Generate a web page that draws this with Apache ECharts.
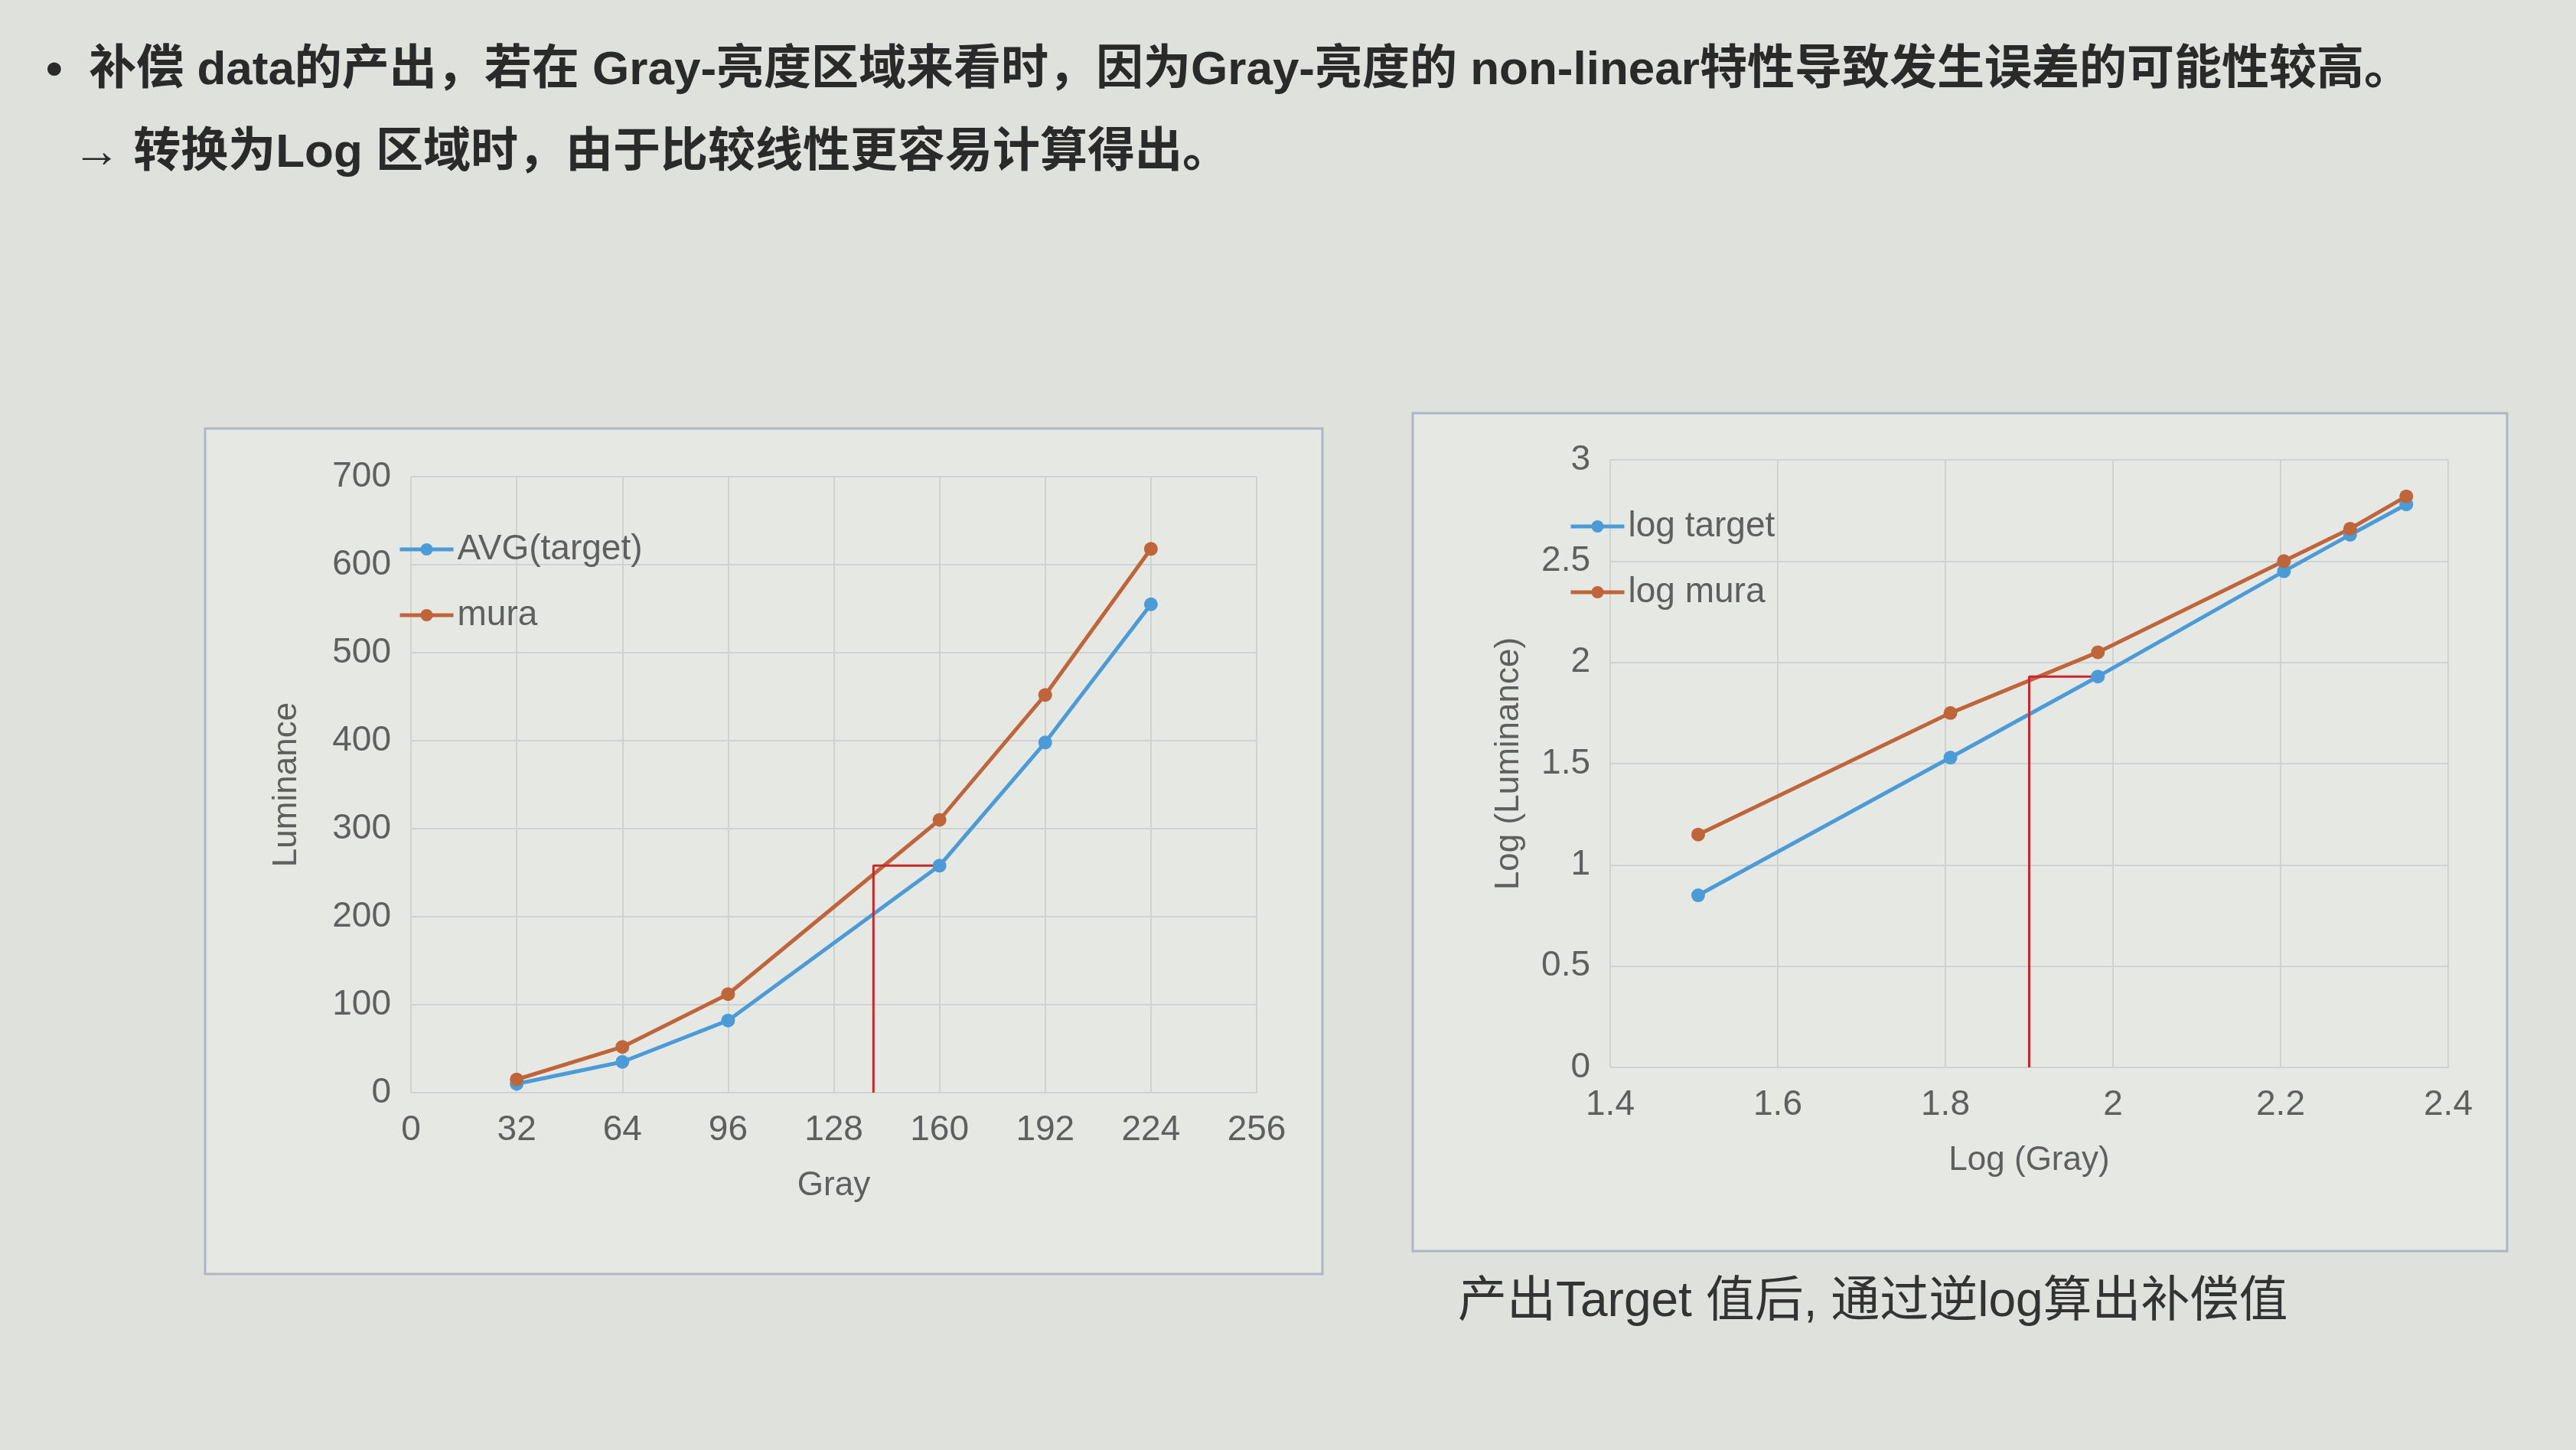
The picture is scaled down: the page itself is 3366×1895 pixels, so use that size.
<!DOCTYPE html>
<html><head><meta charset="utf-8">
<script src="https://cdn.jsdelivr.net/npm/echarts@6/dist/echarts.min.js"></script>
<style>html,body{margin:0;padding:0;background:#dfe1dc}#main{width:3366px;height:1895px}</style>
</head><body><div id="main"></div>
<script>
// left chart: Gray vs Luminance
const grayValues = [32, 64, 96, 160, 192, 224]
const avgTarget = [10, 35, 82, 258, 398, 555]
const muraValues = [15, 52, 112, 310, 452, 618]
// right chart: log(Gray) vs log(Luminance)
const logGray = [1.505, 1.806, 1.982, 2.204, 2.283, 2.350]
const logTarget = [0.85, 1.53, 1.93, 2.45, 2.63, 2.78]
const logMura = [1.15, 1.75, 2.05, 2.5, 2.66, 2.82]
// red guide lines
const guideLeft = [[140, 0], [140, 258], [160, 258]]
const guideRight = [[1.9, 0], [1.9, 1.93], [1.98, 1.93]]

const blue = '#4a9bd8', orange = '#c0643a', tickColor = '#5f5f5f'
const font = '"Liberation Sans", "Noto Sans CJK SC", sans-serif'

let myChart = echarts.init(document.getElementById('main'))
const axisCommon = {
    axisLine: {show: false}, axisTick: {show: false},
    axisLabel: {color: tickColor, fontSize: 46, fontFamily: font, margin: 26},
    splitLine: {lineStyle: {color: '#cfd2d2', width: 2}},
    nameTextStyle: {color: tickColor, fontSize: 44, fontFamily: font}
}
const legendCommon = {orient: 'vertical', itemGap: 40, itemWidth: 70, itemHeight: 20,
    lineStyle: {width: 5}, textStyle: {fontSize: 46, color: tickColor}}
let option = {
    backgroundColor: '#dfe1dc',
    textStyle: {fontFamily: font},
    graphic: [
        {type: 'rect', shape: {x: 268, y: 560, width: 1460, height: 1105}, style: {fill: '#e6e8e4', stroke: '#aeb6c6', lineWidth: 3}},
        {type: 'rect', shape: {x: 1846, y: 540, width: 1430, height: 1095}, style: {fill: '#e6e8e4', stroke: '#aeb6c6', lineWidth: 3}},
        {type: 'text', left: 60, top: 62, style: {text: '•  补偿 data的产出，若在 Gray-亮度区域来看时，因为Gray-亮度的 non-linear特性导致发生误差的可能性较高。', fontSize: 62, fill: '#2a2a2a', fontWeight: 'bold', fontFamily: font}},
        {type: 'text', left: 95, top: 170, style: {text: '→ 转换为Log 区域时，由于比较线性更容易计算得出。', fontSize: 62, fill: '#2a2a2a', fontWeight: 'bold', fontFamily: font}},
        {type: 'text', left: 1905, top: 1670, style: {text: '产出Target 值后, 通过逆log算出补偿值', fontSize: 64, fill: '#333', fontFamily: font}}
    ],
    legend: [
        Object.assign({left: 515, top: 690, data: ['AVG(target)', 'mura']}, legendCommon),
        Object.assign({left: 2045, top: 660, data: ['log target', 'log mura']}, legendCommon)
    ],
    grid: [
        {left: 537, top: 623, width: 1105, height: 805},
        {left: 2104, top: 601, width: 1095, height: 794}
    ],
    xAxis: [
        Object.assign({}, axisCommon, {gridIndex: 0, type: 'value', min: 0, max: 256, interval: 32, name: 'Gray', nameLocation: 'middle', nameGap: 100}),
        Object.assign({}, axisCommon, {gridIndex: 1, type: 'value', min: 1.4, max: 2.4, interval: 0.2, name: 'Log (Gray)', nameLocation: 'middle', nameGap: 100})
    ],
    yAxis: [
        Object.assign({}, axisCommon, {gridIndex: 0, type: 'value', min: 0, max: 700, interval: 100, name: 'Luminance', nameLocation: 'middle', nameGap: 140}),
        Object.assign({}, axisCommon, {gridIndex: 1, type: 'value', min: 0, max: 3, interval: 0.5, name: 'Log (Luminance)', nameLocation: 'middle', nameGap: 110})
    ],
    series: [
        {name: 'AVG(target)', type: 'line', xAxisIndex: 0, yAxisIndex: 0, color: blue, symbol: 'circle', symbolSize: 18, lineStyle: {width: 5},
         data: grayValues.map((g, i) => [g, avgTarget[i]])},
        {name: 'mura', type: 'line', xAxisIndex: 0, yAxisIndex: 0, color: orange, symbol: 'circle', symbolSize: 18, lineStyle: {width: 5},
         data: grayValues.map((g, i) => [g, muraValues[i]])},
        {name: 'guideL', type: 'line', xAxisIndex: 0, yAxisIndex: 0, color: '#c8282a', symbol: 'none', lineStyle: {width: 3}, data: guideLeft},
        {name: 'log target', type: 'line', xAxisIndex: 1, yAxisIndex: 1, color: blue, symbol: 'circle', symbolSize: 18, lineStyle: {width: 5},
         data: logGray.map((g, i) => [g, logTarget[i]])},
        {name: 'log mura', type: 'line', xAxisIndex: 1, yAxisIndex: 1, color: orange, symbol: 'circle', symbolSize: 18, lineStyle: {width: 5},
         data: logGray.map((g, i) => [g, logMura[i]])},
        {name: 'guideR', type: 'line', xAxisIndex: 1, yAxisIndex: 1, color: '#c8282a', symbol: 'none', lineStyle: {width: 3}, data: guideRight}
    ]
}
myChart.setOption(option)
</script></body></html>
